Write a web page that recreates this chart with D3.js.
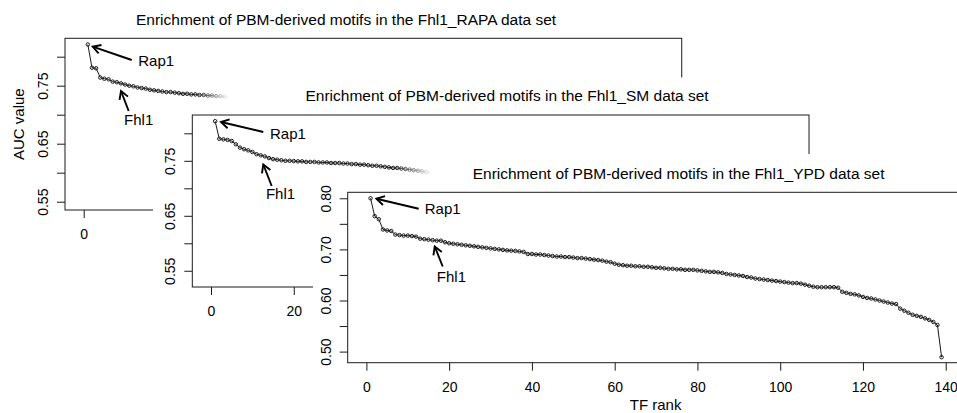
<!DOCTYPE html>
<html><head><meta charset="utf-8">
<script src="https://cdn.jsdelivr.net/npm/d3@7"></script>
<style>
body{margin:0;background:#fff}
svg{display:block}
text{font-family:"Liberation Sans",Arial,Helvetica,sans-serif;fill:#000}
</style>
</head><body>
<svg id="chart" width="957" height="413"></svg>
<script>
// ---------------- data ----------------
const titles = [
  "Enrichment of PBM-derived motifs in the Fhl1_RAPA data set",
  "Enrichment of PBM-derived motifs in the Fhl1_SM data set",
  "Enrichment of PBM-derived motifs in the Fhl1_YPD data set"
];
const xLabel = "TF rank";
const yLabel = "AUC value";

// AUC value by TF rank (1, 2, 3, ...); only the visible part of the covered panels
const aucRAPA = [0.821,0.781,0.780,0.764,0.762,0.761,0.757,0.756,0.754,0.752,
  0.750,0.749,0.747,0.746,0.745,0.743,0.742,0.741,0.740,0.739,
  0.739,0.738,0.737,0.736,0.736,0.735,0.735,0.734,0.734,0.733,
  0.733,0.732,0.732,0.731,0.731];
const aucSM = [0.822,0.790,0.789,0.788,0.786,0.780,0.774,0.771,0.769,0.766,
  0.762,0.760,0.758,0.755,0.753,0.752,0.751,0.750,0.750,0.7495,
  0.749,0.749,0.748,0.748,0.748,0.747,0.747,0.747,0.746,0.746,
  0.746,0.745,0.745,0.744,0.744,0.743,0.743,0.742,0.741,0.741,
  0.740,0.739,0.738,0.737,0.737,0.736,0.735,0.734,0.733,0.732,
  0.731,0.730,0.729];
const aucYPD = [0.800,0.765,0.759,0.739,0.737,0.736,0.729,0.728,0.727,0.727,
  0.726,0.725,0.721,0.720,0.719,0.718,0.717,0.717,0.714,0.712,
  0.711,0.710,0.709,0.708,0.707,0.706,0.705,0.704,0.703,0.702,
  0.701,0.700,0.699,0.698,0.6975,0.697,0.696,0.695,0.691,0.691,
  0.690,0.690,0.689,0.688,0.687,0.686,0.686,0.685,0.685,0.684,
  0.683,0.683,0.682,0.681,0.680,0.679,0.678,0.676,0.675,0.672,
  0.670,0.669,0.668,0.668,0.667,0.667,0.666,0.666,0.665,0.664,
  0.664,0.663,0.662,0.662,0.661,0.661,0.660,0.660,0.660,0.659,
  0.658,0.657,0.656,0.656,0.655,0.654,0.652,0.651,0.650,0.649,
  0.648,0.646,0.645,0.643,0.642,0.641,0.640,0.639,0.638,0.637,
  0.636,0.635,0.634,0.634,0.633,0.631,0.629,0.627,0.626,0.626,
  0.626,0.626,0.626,0.625,0.617,0.615,0.613,0.612,0.610,0.607,
  0.605,0.604,0.602,0.600,0.598,0.596,0.594,0.593,0.584,0.580,
  0.576,0.572,0.570,0.568,0.565,0.562,0.558,0.552,0.489];

const xTicks = [0,20,40,60,80,100,120,140];
const xDomain = [-4.52, 144.52];
const yTicksRAPA = [0.55,0.60,0.65,0.70,0.75,0.80];
const yTickLabelsRAPA = [0.55,0.65,0.75];
const yTicksSM = [0.55,0.60,0.65,0.70,0.75,0.80];
const yTickLabelsSM = [0.55,0.65,0.75];
const yTicksYPD = [0.50,0.55,0.60,0.65,0.70,0.75,0.80];
const yTickLabelsYPD = [0.50,0.60,0.70,0.80];
const yDomainRAPA = [0.5357, 0.8317];
const yDomainSM = [0.5205, 0.8333];
const yDomainYPD = [0.4783, 0.8117];

// annotations in data units: [headRank, headAUC, tailRank, tailAUC] and label [rank, AUC]
const rap1ArrowRAPA = [2.17,0.8172,11.60,0.7943], rap1LabelRAPA = [13.19,0.7936];
const fhl1ArrowRAPA = [9.01,0.7409,10.87,0.7064], fhl1LabelRAPA = [13.29,0.6914];
const rap1ArrowSM = [2.42,0.8205,12.64,0.8024], rap1LabelSM = [14.26,0.7993];
const fhl1ArrowSM = [12.64,0.7433,14.67,0.7042], fhl1LabelSM = [16.80,0.6900];
const rap1ArrowYPD = [2.42,0.799,12.64,0.7795], rap1LabelYPD = [14.09,0.7796];
const fhl1ArrowYPD = [16.51,0.7057,18.44,0.6665], fhl1LabelYPD = [20.54,0.6474];

// ---------------- layout ----------------
const svg = d3.select("#chart");
const defs = svg.append("defs");
const panels = [
  {values:aucRAPA, title:titles[0], yDomain:yDomainRAPA, yTicks:yTicksRAPA, yTickLabels:yTickLabelsRAPA,
   left:65, top:38.3, bottom:210, titleX:136,
   rapArrow:rap1ArrowRAPA, rapLabel:rap1LabelRAPA, fhlArrow:fhl1ArrowRAPA, fhlLabel:fhl1LabelRAPA,
   fade:[198,229], yLab:true, xLab:false, cover:null},
  {values:aucSM, title:titles[1], yDomain:yDomainSM, yTicks:yTicksSM, yTickLabels:yTickLabelsSM,
   left:192.3, top:115, bottom:287, titleX:305.5,
   rapArrow:rap1ArrowSM, rapLabel:rap1LabelSM, fhlArrow:fhl1ArrowSM, fhlLabel:fhl1LabelSM,
   fade:[397,432], yLab:false, xLab:false, cover:"M153,413V103H229V77.5H957V413Z"},
  {values:aucYPD, title:titles[2], yDomain:yDomainYPD, yTicks:yTicksYPD, yTickLabels:yTickLabelsYPD,
   left:347.7, top:192.3, bottom:362.7, titleX:472.7,
   rapArrow:rap1ArrowYPD, rapLabel:rap1LabelYPD, fhlArrow:fhl1ArrowYPD, fhlLabel:fhl1LabelYPD,
   fade:null, yLab:false, xLab:true, cover:"M313,413V181H433V154H957V413Z"}
];
const PX_PER_RANK = 4.138;
const boxW = (xDomain[1]-xDomain[0]) * PX_PER_RANK;
const INK = "#1a1a1a";

function drawArrow(g, x, y, a) {
  const x1 = x(a[2]), y1 = y(a[3]), x2 = x(a[0]), y2 = y(a[1]);
  const ang = Math.atan2(y2 - y1, x2 - x1), L = 9, h = Math.PI / 6;
  g.append("line").attr("x1", x1).attr("y1", y1).attr("x2", x2).attr("y2", y2);
  g.append("path").attr("d",
    `M${x2 - L*Math.cos(ang - h)},${y2 - L*Math.sin(ang - h)}L${x2},${y2}L${x2 - L*Math.cos(ang + h)},${y2 - L*Math.sin(ang + h)}`)
    .attr("fill", "none");
}

panels.forEach((p, i) => {
  const g = svg.append("g");
  if (p.cover) g.append("path").attr("d", p.cover).attr("fill", "#fff");
  const x = d3.scaleLinear().domain(xDomain).range([p.left, p.left + boxW]);
  const y = d3.scaleLinear().domain(p.yDomain).range([p.bottom, p.top]);

  // title
  g.append("text").attr("x", p.titleX).attr("y", p.top - 13.8)
    .attr("font-size", "15.5px").text(p.title);

  // y axis
  const ya = g.append("g").attr("transform", `translate(${p.left},0)`)
    .call(d3.axisLeft(y).tickValues(p.yTicks).tickSize(8).tickPadding(0)
      .tickFormat(v => p.yTickLabels.some(l => Math.abs(l - v) < 1e-9) ? d3.format(".2f")(v) : ""));
  ya.select(".domain").remove();
  ya.selectAll("line").attr("stroke", INK);
  ya.selectAll("text").attr("transform", "rotate(-90)").attr("x", 0).attr("y", -17).attr("dy", 0)
    .attr("text-anchor", "middle").attr("font-size", "14px").attr("font-family", null).attr("fill", "#000");

  // x axis
  const xa = g.append("g").attr("transform", `translate(0,${p.bottom})`)
    .call(d3.axisBottom(x).tickValues(xTicks).tickSize(8).tickPadding(11).tickFormat(d3.format("d")));
  xa.select(".domain").remove();
  xa.selectAll("line").attr("stroke", INK);
  xa.selectAll("text").attr("font-size", "14px").attr("font-family", null).attr("fill", "#000");

  // box
  g.append("rect").attr("x", p.left).attr("y", p.top).attr("width", boxW).attr("height", p.bottom - p.top)
    .attr("fill", "none").attr("stroke", INK).attr("stroke-width", 1);

  // series
  const sg = g.append("g");
  if (p.fade) {
    const gid = "fadeGrad" + i, mid = "fadeMask" + i;
    const lg = defs.append("linearGradient").attr("id", gid).attr("gradientUnits", "userSpaceOnUse")
      .attr("x1", p.fade[0]).attr("x2", p.fade[1]).attr("y1", 0).attr("y2", 0);
    lg.append("stop").attr("offset", 0).attr("stop-color", "#fff").attr("stop-opacity", 1);
    lg.append("stop").attr("offset", 1).attr("stop-color", "#fff").attr("stop-opacity", 0);
    defs.append("mask").attr("id", mid).attr("maskUnits", "userSpaceOnUse")
      .attr("x", 0).attr("y", 0).attr("width", 957).attr("height", 413)
      .append("rect").attr("x", 0).attr("y", 0).attr("width", 957).attr("height", 413).attr("fill", `url(#${gid})`);
    sg.attr("mask", `url(#${mid})`);
  }
  const pts = p.values.map((v, k) => [k + 1, v]);
  sg.append("path").datum(pts)
    .attr("d", d3.line().x(d => x(d[0])).y(d => y(d[1])))
    .attr("fill", "none").attr("stroke", INK).attr("stroke-width", 1);
  sg.selectAll("circle").data(pts).join("circle")
    .attr("cx", d => x(d[0])).attr("cy", d => y(d[1])).attr("r", 1.75)
    .attr("fill", "none").attr("stroke", INK).attr("stroke-width", 1);

  // annotations
  const ag = g.append("g").attr("stroke", "#000").attr("stroke-width", 1.9);
  drawArrow(ag, x, y, p.rapArrow);
  drawArrow(ag, x, y, p.fhlArrow);
  g.append("text").attr("x", x(p.rapLabel[0])).attr("y", y(p.rapLabel[1]) + 5.3)
    .attr("font-size", "15px").text("Rap1");
  g.append("text").attr("x", x(p.fhlLabel[0])).attr("y", y(p.fhlLabel[1]) + 5.3)
    .attr("text-anchor", "middle").attr("font-size", "15px").text("Fhl1");

  if (p.yLab) {
    g.append("text").attr("transform", `translate(24,${(p.top + p.bottom) / 2}) rotate(-90)`)
      .attr("text-anchor", "middle").attr("font-size", "15px").text(yLabel);
  }
  if (p.xLab) {
    g.append("text").attr("x", x(0) + (x(140) - x(0)) / 2 - 0.5).attr("y", 410)
      .attr("text-anchor", "middle").attr("font-size", "15px").text(xLabel);
  }
});
</script>
</body></html>
